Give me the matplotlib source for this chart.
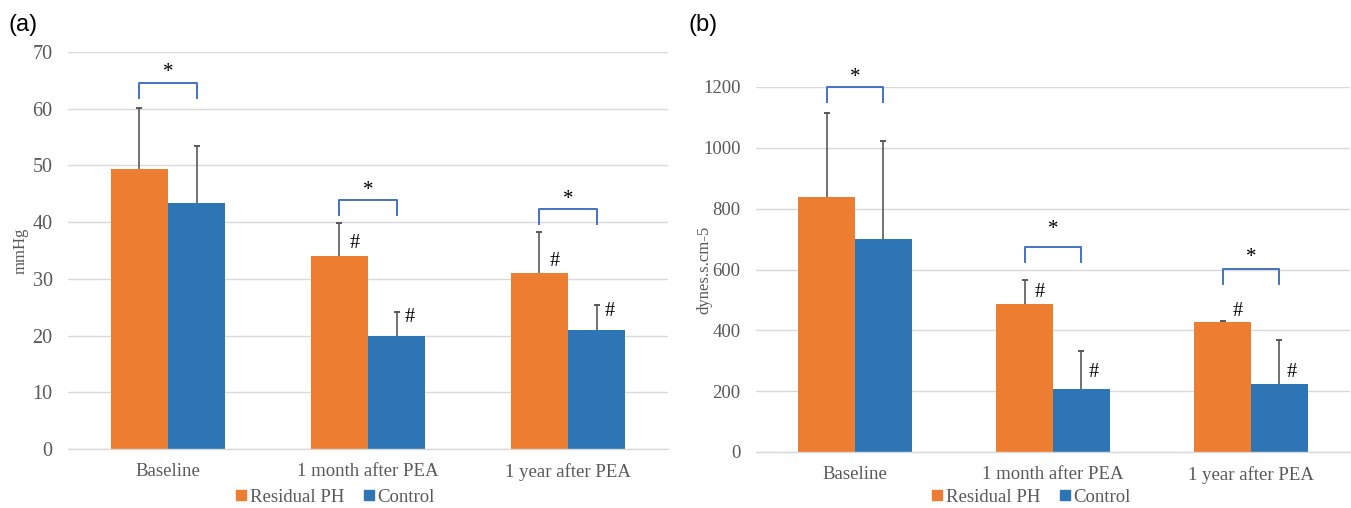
import matplotlib
matplotlib.use("Agg")

import matplotlib.pyplot as plt
from matplotlib.lines import Line2D
import numpy as np

categories = ["Baseline", "1 month after PEA", "1 year after PEA"]
series_names = ["Residual PH", "Control"]

# panel (a) mPAP, mmHg
mpap_residual = [49.4, 34.0, 31.0]
mpap_residual_sd = [10.8, 5.9, 7.2]
mpap_control = [43.4, 20.0, 21.0]
mpap_control_sd = [10.1, 4.2, 4.4]

# panel (b) PVR, dynes.s.cm-5
pvr_residual = [838, 487, 428]
pvr_residual_sd = [277, 77, 3]
pvr_control = [700, 208, 224]
pvr_control_sd = [321, 123, 143]

# significance marks
star_a = [66.4, 45.5, 44.0]
bracket_a = [64.6, 43.9, 42.3]
hash_res_a = [None, 36.2, 33.0]
hash_ctl_a = [None, 23.1, 24.3]

star_b = [1230, 732, 638]
bracket_b = [1200, 675, 602]
hash_res_b = [None, 526, 461]
hash_ctl_b = [None, 263, 263]

ORANGE = "#ED7D31"
BLUE = "#2E75B6"
BRACKET = "#4472C4"
GREY = "#595959"
GRID = "#D9D9D9"
SERIF = "Liberation Serif"

W = 0.286


def draw_panel(ax, res, res_sd, ctl, ctl_sd, ymax, ystep, ylabel, ytick_size,
               stars, brackets, drop, hash_res, hash_ctl):
    x = np.arange(len(categories))
    ax.bar(x - W / 2, res, W, color=ORANGE, zorder=2)
    ax.bar(x + W / 2, ctl, W, color=BLUE, zorder=2)
    # plus-only error bars, cap on the top end only
    for xs, vals, sds in [(x - W / 2, res, res_sd), (x + W / 2, ctl, ctl_sd)]:
        tops = np.array(vals) + np.array(sds)
        ax.vlines(xs, vals, tops, color=GREY, lw=1.2, zorder=3)
        ax.plot(xs, tops, ls="none", marker="_", markersize=5, mew=1.4,
                color=GREY, zorder=3)

    for i in range(len(categories)):
        x0, x1 = i - W / 2, i + W / 2
        ax.plot([x0, x0, x1, x1],
                [brackets[i] - drop, brackets[i], brackets[i], brackets[i] - drop],
                color=BRACKET, lw=1.4, clip_on=False, zorder=4)
        ax.text(i, stars[i], "*", ha="center", va="center", fontsize=15,
                family=SERIF, color="black", clip_on=False)
        if hash_res[i] is not None:
            ax.text(x0 + 0.075, hash_res[i], "#", ha="center", va="center",
                    fontsize=14.5, family=SERIF, color="black")
        if hash_ctl[i] is not None:
            ax.text(x1 + 0.065, hash_ctl[i], "#", ha="center", va="center",
                    fontsize=14.5, family=SERIF, color="black")

    ax.set_xlim(-0.5, len(categories) - 0.5)
    ax.set_ylim(0, ymax)
    ax.set_yticks(np.arange(0, ymax + 1, ystep))
    ax.set_xticks(x)
    ax.set_xticklabels(categories)
    ax.yaxis.grid(True, color=GRID, lw=1.0, zorder=0)
    ax.set_axisbelow(True)
    for s in ["top", "right", "left"]:
        ax.spines[s].set_visible(False)
    ax.spines["bottom"].set_color(GRID)
    ax.spines["bottom"].set_linewidth(1.0)
    ax.tick_params(axis="both", length=0, colors=GREY)
    ax.tick_params(axis="x", labelsize=13.5, pad=10)
    ax.tick_params(axis="y", labelsize=ytick_size, pad=11)
    for lab in ax.get_xticklabels() + ax.get_yticklabels():
        lab.set_family(SERIF)
    ax.set_ylabel(ylabel, family=SERIF, fontsize=12, color=GREY)


fig = plt.figure(figsize=(13.51, 5.08), dpi=100)
ax_a = fig.add_axes([68 / 1351, 1 - 449 / 508, 600 / 1351, 397 / 508])
ax_b = fig.add_axes([756 / 1351, 1 - 452 / 508, 594 / 1351, 365 / 508])

draw_panel(ax_a, mpap_residual, mpap_residual_sd, mpap_control, mpap_control_sd,
           70, 10, "mmHg", 14.5, star_a, bracket_a, 2.7, hash_res_a, hash_ctl_a)
draw_panel(ax_b, pvr_residual, pvr_residual_sd, pvr_control, pvr_control_sd,
           1200, 200, "dynes.s.cm-5", 13.5, star_b, bracket_b, 50, hash_res_b, hash_ctl_b)

ax_a.yaxis.set_label_coords(29 / 1351, 1 - 251 / 508, transform=fig.transFigure)
ax_b.yaxis.set_label_coords(712 / 1351, 1 - 270 / 508, transform=fig.transFigure)

handles = [Line2D([], [], marker="s", ls="none", color=ORANGE, markersize=7),
           Line2D([], [], marker="s", ls="none", color=BLUE, markersize=7)]
for cx in [335 / 1351, 1031 / 1351]:
    fig.legend(handles, series_names, loc="center", bbox_to_anchor=(cx, 1 - 497 / 508),
               ncol=2, frameon=False, handlelength=0.6, handletextpad=0.15,
               columnspacing=1.0, prop={"family": SERIF, "size": 13.5},
               labelcolor=GREY, borderaxespad=0, borderpad=0)

fig.text(8 / 1351, 1 - 25 / 508, "(a)", fontsize=17, family="Liberation Sans",
         ha="left", va="center")
fig.text(688 / 1351, 1 - 25 / 508, "(b)", fontsize=17, family="Liberation Sans",
         ha="left", va="center")

fig.savefig("out.png", dpi=100)
